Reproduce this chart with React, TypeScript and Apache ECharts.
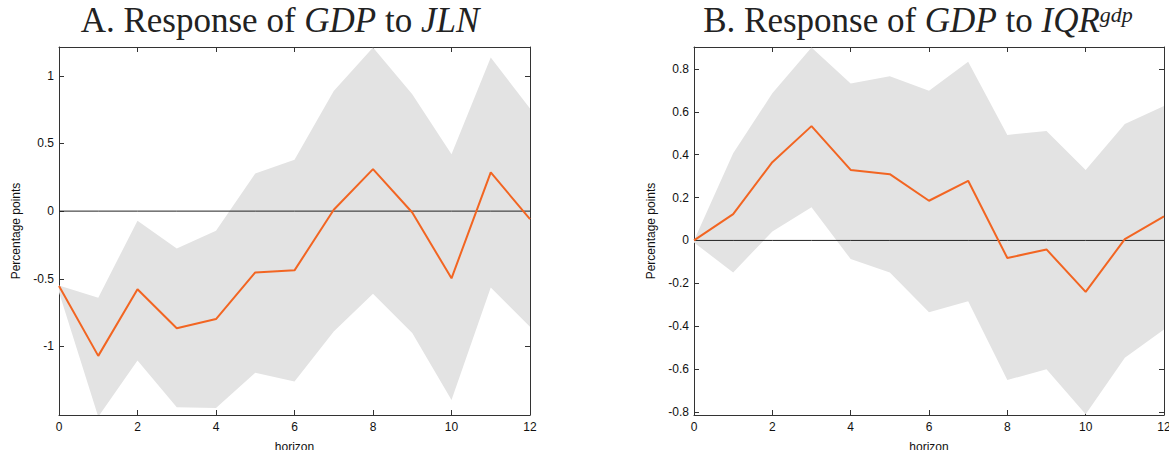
import React, { useEffect, useRef } from "react";
import * as echarts from "echarts";

const horizons = [0, 1, 2, 3, 4, 5, 6, 7, 8, 9, 10, 11, 12];

// Panel A: response of GDP to JLN
const jlnIrf = [-0.554, -1.07, -0.578, -0.866, -0.798, -0.453, -0.438, 0.01, 0.31, -0.01, -0.497, 0.286, -0.059];
const jlnUpper = [-0.55, -0.64, -0.071, -0.276, -0.145, 0.278, 0.38, 0.888, 1.21, 0.864, 0.42, 1.135, 0.758];
const jlnLower = [-0.6, -1.52, -1.105, -1.45, -1.455, -1.194, -1.26, -0.89, -0.61, -0.9, -1.396, -0.564, -0.854];

// Panel B: response of GDP to IQR^gdp
const iqrIrf = [0, 0.123, 0.365, 0.533, 0.329, 0.309, 0.185, 0.278, -0.082, -0.042, -0.24, 0.006, 0.112];
const iqrUpper = [0, 0.406, 0.686, 0.9, 0.732, 0.766, 0.698, 0.833, 0.492, 0.51, 0.329, 0.543, 0.627];
const iqrLower = [-0.01, -0.149, 0.042, 0.155, -0.087, -0.149, -0.335, -0.284, -0.651, -0.601, -0.811, -0.547, -0.415];

const yTicksA = [-1, -0.5, 0, 0.5, 1];
const yTicksB = [-0.8, -0.6, -0.4, -0.2, 0, 0.2, 0.4, 0.6, 0.8];

const yRangeA = [-1.507, 1.213];
const yRangeB = [-0.814, 0.902];

const AXIS = "#333";
const ORANGE = "#f26522";
const BAND = "#e3e3e3";
const SANS = "Liberation Sans, Arial, sans-serif";
const SERIF = "Liberation Serif, Times New Roman, serif";

function fmt(v: number) {
  const r = Math.round(v * 10) / 10;
  return r === 0 ? "0" : String(r);
}

function axesFor(gi: number, yRange: number[], yTicks: number[]) {
  const tickStyle = { show: true, inside: true, length: 5, lineStyle: { color: AXIS, width: 1 } };
  const lineStyle = { show: true, onZero: false, lineStyle: { color: AXIS, width: 1 } };
  const x = [
    {
      gridIndex: gi, type: "value", min: 0, max: 12, interval: 2, position: "bottom",
      axisLine: lineStyle, axisTick: tickStyle, splitLine: { show: false },
      axisLabel: { color: "#111", fontSize: 12, fontFamily: SANS, margin: 6, formatter: (v: number) => String(v) },
      name: "horizon", nameLocation: "middle", nameGap: 26,
      nameTextStyle: { color: "#111", fontSize: 12, fontFamily: SANS },
    },
    {
      gridIndex: gi, type: "value", min: 0, max: 12, interval: 2, position: "top",
      axisLine: lineStyle, axisTick: tickStyle, splitLine: { show: false }, axisLabel: { show: false },
    },
  ];
  const y = [
    {
      gridIndex: gi, type: "value", min: yRange[0], max: yRange[1], position: "left",
      axisLine: lineStyle,
      axisTick: { ...tickStyle, customValues: yTicks },
      splitLine: { show: false },
      axisLabel: { color: "#111", fontSize: 12, fontFamily: SANS, margin: 5, customValues: yTicks, formatter: fmt },
      name: "Percentage points", nameLocation: "middle", nameGap: 37, nameRotate: 90,
      nameTextStyle: { color: "#111", fontSize: 12, fontFamily: SANS },
    },
    {
      gridIndex: gi, type: "value", min: yRange[0], max: yRange[1], position: "right",
      axisLine: lineStyle,
      axisTick: { ...tickStyle, customValues: yTicks },
      splitLine: { show: false }, axisLabel: { show: false },
    },
  ];
  return { x, y };
}

function seriesFor(gi: number, irf: number[], upper: number[], lower: number[]) {
  const xi = gi * 2;
  const yi = gi * 2;
  return [
    {
      type: "custom", xAxisIndex: xi, yAxisIndex: yi,
      data: horizons.map((h, i) => [h, lower[i], upper[i]]),
      encode: { x: 0, y: [1, 2] },
      silent: true, z: 1,
      renderItem: (params: any, api: any) => {
        if (params.dataIndex !== 0) return null;
        const top = horizons.map((h, i) => api.coord([h, upper[i]]));
        const bottom = horizons.map((h, i) => api.coord([h, lower[i]])).reverse();
        const cs = params.coordSys;
        return {
          type: "group",
          clipPath: { type: "rect", shape: { x: cs.x, y: cs.y, width: cs.width, height: cs.height } },
          children: [
            { type: "polygon", shape: { points: top.concat(bottom) }, style: { fill: BAND, stroke: "none" } },
          ],
        };
      },
    },
    {
      type: "line", xAxisIndex: xi, yAxisIndex: yi,
      data: horizons.map((h) => [h, 0]),
      symbol: "none", lineStyle: { color: "#222", width: 1 }, silent: true, z: 2,
    },
    {
      type: "line", xAxisIndex: xi, yAxisIndex: yi,
      data: horizons.map((h, i) => [h, irf[i]]),
      symbol: "none", lineStyle: { color: ORANGE, width: 2 }, silent: true, z: 3,
    },
  ];
}

export default function App() {
  const ref = useRef<HTMLDivElement>(null);
  useEffect(() => {
    document.body.style.margin = "0";
    if (!ref.current) return;
    const chart = echarts.init(ref.current, undefined, { renderer: "svg" });
    const a = axesFor(0, yRangeA, yTicksA);
    const b = axesFor(1, yRangeB, yTicksB);
    const titleRich = {
      n: { fontFamily: SERIF, fontSize: 35, fill: "#222" },
      i: { fontFamily: SERIF, fontSize: 35, fontStyle: "italic", fill: "#222" },
      s: { fontFamily: SERIF, fontSize: 22, fontStyle: "italic", fill: "#222", verticalAlign: "top" },
    };
    chart.setOption({
      animation: false,
      grid: [
        { left: 59, top: 47, width: 471, height: 368, containLabel: false, outerBoundsMode: "none" },
        { left: 694, top: 47, width: 470, height: 368, containLabel: false, outerBoundsMode: "none" },
      ],
      xAxis: [...a.x, ...b.x],
      yAxis: [...a.y, ...b.y],
      series: [
        ...seriesFor(0, jlnIrf, jlnUpper, jlnLower),
        ...seriesFor(1, iqrIrf, iqrUpper, iqrLower),
      ],
      graphic: [
        {
          type: "text", x: 280, y: 3,
          style: {
            text: "{n|A. Response of }{i|GDP}{n| to }{i|JLN}",
            rich: titleRich, align: "center", verticalAlign: "top",
          },
        },
        {
          type: "text", x: 918, y: 3,
          style: {
            text: "{n|B. Response of }{i|GDP}{n| to }{i|IQR}{s|gdp}",
            rich: titleRich, align: "center", verticalAlign: "top",
          },
        },
      ],
    });
    return () => chart.dispose();
  }, []);
  return <div ref={ref} style={{ width: 1169, height: 450 }} />;
}
